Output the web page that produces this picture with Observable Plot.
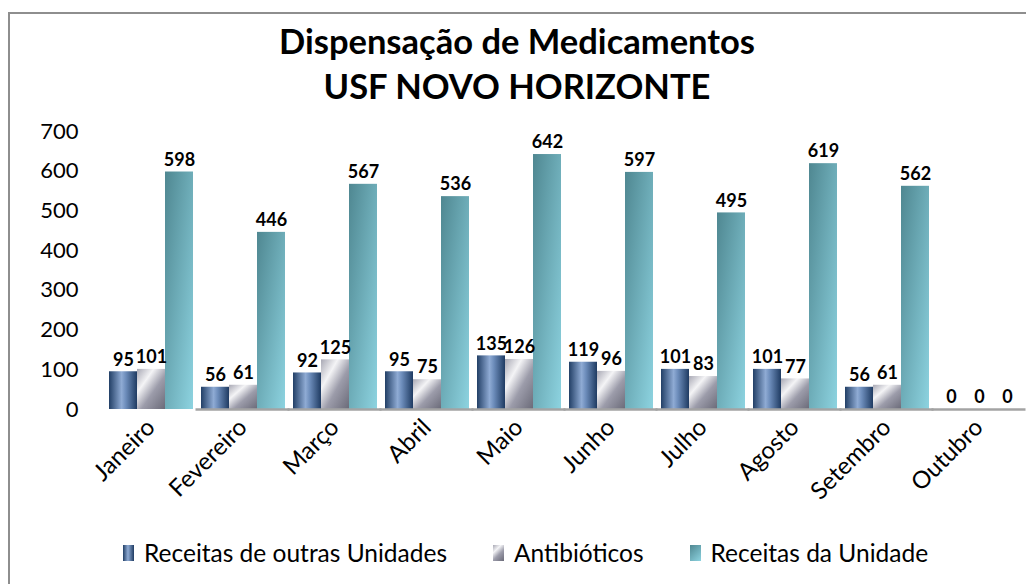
<!DOCTYPE html>
<html><head><meta charset="utf-8">
<script src="https://cdn.jsdelivr.net/npm/d3@7"></script>
<script src="https://cdn.jsdelivr.net/npm/@observablehq/plot@0.6"></script>
<style>
body{margin:0;background:#fff;font-family:Lato, "Noto Sans", sans-serif;}
#wrap{position:relative;width:1026px;height:584px;overflow:hidden;background:#fff;}
#frame{position:absolute;left:8px;top:12px;width:1100px;height:700px;border:2px solid #8e8e8e;}
#title{position:absolute;left:0;top:18px;width:1034px;text-align:center;font-weight:bold;font-size:34.5px;line-height:45px;color:#000;}
#chart{position:absolute;left:0;top:110px;}
#chart g[aria-label^="fx-axis"], #chart g[aria-label^="fx-axis"] text{font-size:24px;}
#legend{position:absolute;left:123px;top:538px;display:flex;align-items:center;font-size:24.5px;color:#000;white-space:nowrap;}
.item{display:flex;align-items:center;margin-right:46px;}
.sw{width:11px;height:16px;margin-right:10px;}
</style>
</head><body>
<div id="wrap">
  <div id="frame"></div>
  <div id="title">Dispensação de Medicamentos<br>USF NOVO HORIZONTE</div>
  <div id="chart"></div>
  <div id="legend"></div>
</div>
<script>
const months = ["Janeiro","Fevereiro","Março","Abril","Maio","Junho","Julho","Agosto","Setembro","Outubro"];
const series = ["Receitas de outras Unidades","Antibióticos","Receitas da Unidade"];
const outrasUnidades = [95,56,92,95,135,119,101,101,56,0];
const antibioticos = [101,61,125,75,126,96,83,77,61,0];
const receitasUnidade = [598,446,567,536,642,597,495,619,562,0];
const yTicks = [0,100,200,300,400,500,600,700];
const seriesFills = ["url(#gBlue)","url(#gGray)","url(#gTeal)"];
const swatchCss = [
  "linear-gradient(90deg,#223f66,#8fabd4 45%,#1f3b62)",
  "linear-gradient(135deg,#a8a8b4,#f4f4f6 30%,#9c9caa 58%,#6a6a78)",
  "linear-gradient(135deg,#4f8791,#8dd3e0)"
];

const valuesBySeries = [outrasUnidades, antibioticos, receitasUnidade];
const rows = [];
months.forEach((m, i) => series.forEach((s, j) => rows.push({month: m, series: s, value: valuesBySeries[j][i]})));

const chart = Plot.plot({
  width: 1026,
  height: 420,
  marginTop: 21,
  marginBottom: 121,
  marginLeft: 103,
  marginRight: 0,
  style: {fontFamily: "Lato, 'Noto Sans', sans-serif", fontSize: "22px", color: "#000", background: "transparent", overflow: "visible"},
  facet: {data: rows, x: "month"},
  fx: {domain: months, paddingInner: 0.08, paddingOuter: 0.04, label: null, tickRotate: -45, tickSize: 0, tickPadding: 14},
  x: {domain: series, padding: 0, axis: null},
  y: {domain: [0, 700], ticks: yTicks, tickSize: 0, tickPadding: 30, label: null, line: false},
  color: {domain: series, range: seriesFills},
  marks: [
    Plot.barY(rows, {x: "series", y: "value", fill: "series"}),
    Plot.ruleY([0], {facet: "exclude", stroke: "#a3a3a3", strokeWidth: 2.5, insetLeft: -4.5, insetRight: -4.5}),
    Plot.text(rows, {x: "series", y: "value", text: d => String(d.value), dy: -12, fontSize: 18, fontWeight: "bold", fill: "#000"})
  ]
});

chart.insertAdjacentHTML("afterbegin", `
<defs>
  <linearGradient id="gBlue" x1="0" y1="0" x2="1" y2="0">
    <stop offset="0" stop-color="#223f66"/>
    <stop offset="0.45" stop-color="#8fabd4"/>
    <stop offset="0.6" stop-color="#6d8dbb"/>
    <stop offset="1" stop-color="#1f3b62"/>
  </linearGradient>
  <linearGradient id="gGray" x1="0" y1="0" x2="1" y2="1">
    <stop offset="0" stop-color="#a8a8b4"/>
    <stop offset="0.3" stop-color="#f4f4f6"/>
    <stop offset="0.58" stop-color="#9c9caa"/>
    <stop offset="1" stop-color="#6a6a78"/>
  </linearGradient>
  <linearGradient id="gTeal" x1="0" y1="0" x2="1" y2="1">
    <stop offset="0" stop-color="#4f8791"/>
    <stop offset="1" stop-color="#8dd3e0"/>
  </linearGradient>
</defs>`);
document.getElementById("chart").appendChild(chart);

const legend = document.getElementById("legend");
series.forEach((s, i) => {
  const item = document.createElement("div");
  item.className = "item";
  const sw = document.createElement("div");
  sw.className = "sw";
  sw.style.background = swatchCss[i];
  const t = document.createElement("span");
  t.textContent = s;
  item.appendChild(sw); item.appendChild(t);
  legend.appendChild(item);
});
</script>
</body></html>
